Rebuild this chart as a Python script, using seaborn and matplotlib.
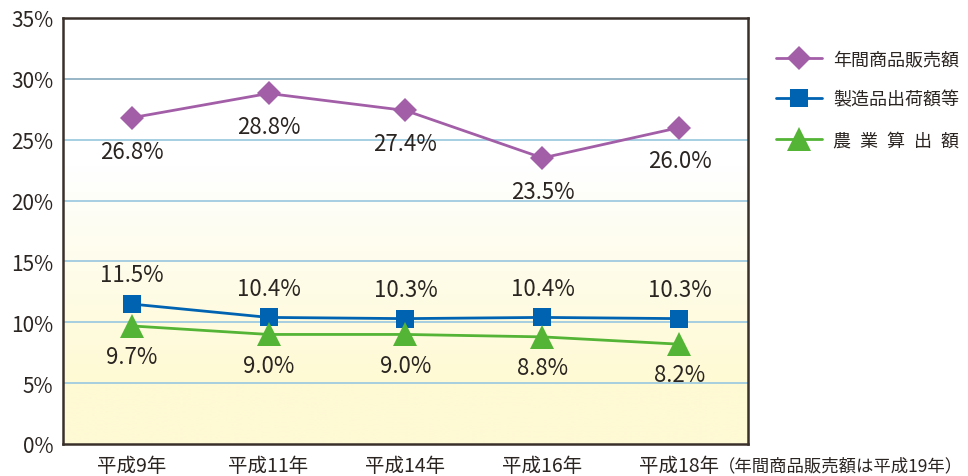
import numpy as np
import pandas as pd
import matplotlib
matplotlib.use("Agg")
import matplotlib.pyplot as plt
import seaborn as sns

# data
years = ["平成9年", "平成11年", "平成14年", "平成16年", "平成18年"]
last_note = "（年間商品販売額は平成19年）"
sales = [26.8, 28.8, 27.4, 23.5, 26.0]        # 年間商品販売額
shipments = [11.5, 10.4, 10.3, 10.4, 10.3]   # 製造品出荷額等
agri = [9.7, 9.0, 9.0, 8.8, 8.2]             # 農業算出額
series_names = ["年間商品販売額", "製造品出荷額等", "農\u2002業\u2002算\u2002出\u2002額"]

sns.set_theme(style="white")
plt.rcParams["font.family"] = ["Noto Sans CJK JP", "DejaVu Sans"]

text_c = "#2b2522"
colors = ["#a35ea8", "#0063b1", "#54b435"]
markers = ["D", "s", "^"]
msizes = [12, 13, 17]
label_offsets = [-24, 21, -22]

fig = plt.figure(figsize=(9.68, 4.77), dpi=100)
ax = fig.add_axes([0.0651, 0.0671, 0.7076, 0.8931])

# background gradient: pale yellow at bottom fading to white
f = np.linspace(0, 1, 256)
grad = np.clip((0.65 - f) / 0.5, 0, 1)
bottom = np.array([254, 250, 212]) / 255
top = np.array([1.0, 1.0, 1.0])
img = (top + (bottom - top) * grad[:, None]).reshape(256, 1, 3)
ax.imshow(img, extent=(-0.5, 4.5, 0, 35), aspect="auto", origin="lower", zorder=0)

for y in range(5, 35, 5):
    ax.axhline(y, color="#9fcbe0" if y != 30 else "#8fb0c0", lw=1.3, zorder=1)

for vals, name, c, m, ms, off in zip([sales, shipments, agri], series_names, colors, markers, msizes, label_offsets):
    df = pd.DataFrame({"year": years, "value": vals})
    sns.lineplot(data=df, x="year", y="value", ax=ax, color=c, lw=2, marker=m,
                 markersize=ms, markeredgewidth=0, label=name, zorder=3, sort=False)
    for i, v in enumerate(vals):
        ax.annotate(f"{v:.1f}%", (i, v), xytext=(0, off), textcoords="offset points",
                    ha="center", va="center", fontsize=16, color=text_c)

ax.set_xlim(-0.5, 4.5)
ax.set_ylim(0, 35)
ax.set_yticks(range(0, 36, 5))
ax.set_yticklabels([f"{t}%" for t in range(0, 36, 5)], fontsize=15, color=text_c)
ax.set_xticks(range(5))
ax.set_xticklabels(years, fontsize=14, color=text_c)
ax.set_xticks([0.5, 1.5, 2.5, 3.5], minor=True)
ax.tick_params(axis="both", which="major", length=0, pad=8)
ax.tick_params(axis="y", pad=7)
ax.tick_params(axis="x", which="minor", direction="in", length=9, width=1.3, color="#a8d8e8")
ax.set_xlabel("")
ax.set_ylabel("")
for s in ax.spines.values():
    s.set_color("#3a302a")
    s.set_linewidth(1.8)

# note after the last x label
last = ax.get_xticklabels()[-1]
fig.canvas.draw()
bb = last.get_window_extent()
fig.text((bb.x1 - 2) / fig.dpi / fig.get_figwidth(), (bb.y0 + bb.y1) / 2 / fig.dpi / fig.get_figheight(),
         last_note, ha="left", va="center", fontsize=12.5, color=text_c)

leg = ax.legend(loc="upper left", bbox_to_anchor=(0.8017, 0.893), bbox_transform=fig.transFigure,
                frameon=False, fontsize=13, borderpad=0, borderaxespad=0,
                handlelength=2.55, labelspacing=1.25, handletextpad=0.6)
for t in leg.get_texts():
    t.set_color(text_c)

fig.savefig("out.png", dpi=100)
